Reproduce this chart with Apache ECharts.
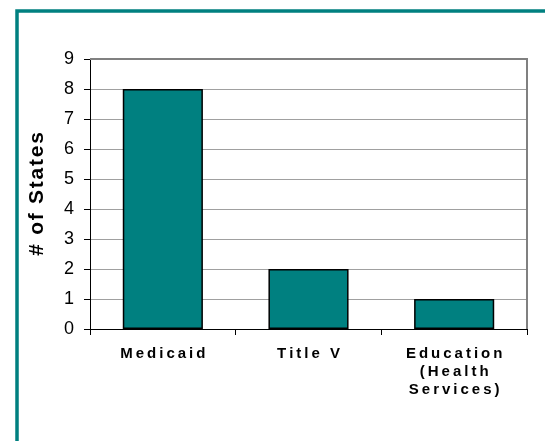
<!DOCTYPE html>
<html>
<head>
<meta charset="utf-8">
<script src="https://cdn.jsdelivr.net/npm/echarts@6/dist/echarts.min.js"></script>
<style>
  html, body { margin: 0; padding: 0; background: #fff; }
  #chart { width: 545px; height: 441px; }
</style>
</head>
<body>
<div id="chart"></div>
<script>
// Number of states using each funding source
const categories = ['Medicaid', 'Title V', 'Education\n(Health\nServices)'];
const stateCounts = [8, 2, 1];
const yTicks = [0, 1, 2, 3, 4, 5, 6, 7, 8, 9];
const yTitle = '# of States';

// open up the tracking of a label by putting a narrow space between letters
function tracked(label, gap) {
  return label.split('\n').map(function (line) {
    return Array.from(line).join(gap);
  }).join('\n');
}

const chart = echarts.init(document.getElementById('chart'), null, { renderer: 'canvas' });

const gridBox = { left: 90, top: 59, right: 18, bottom: 112 };

chart.setOption({
  animation: false,
  backgroundColor: '#ffffff',
  graphic: [
    // teal frame around the chart (runs off the right and bottom edges)
    {
      type: 'rect',
      shape: { x: 17, y: 11, width: 560, height: 460 },
      style: { fill: 'none', stroke: '#008080', lineWidth: 3.5 },
      silent: true
    },
    // plot-area outline (top and right sides)
    {
      type: 'polyline',
      shape: { points: [[90, 59], [527, 59], [527, 329]] },
      style: { stroke: '#808080', lineWidth: 2, fill: 'none' },
      z: 5,
      silent: true
    }
  ],
  grid: gridBox,
  xAxis: {
    type: 'category',
    data: categories,
    axisLine: { show: true, lineStyle: { color: '#000', width: 1 } },
    axisTick: { show: true, alignWithLabel: false, length: 6, lineStyle: { color: '#000' } },
    axisLabel: {
      color: '#000',
      fontFamily: 'Arial, Liberation Sans, sans-serif',
      fontWeight: 'bold',
      fontSize: 15,
      lineHeight: 18,
      margin: 16,
      interval: 0,
      formatter: function (v) { return tracked(v, '\u2009'); }
    },
    splitLine: { show: false }
  },
  yAxis: {
    type: 'value',
    min: yTicks[0],
    max: yTicks[yTicks.length - 1],
    interval: 1,
    name: tracked(yTitle, '\u200A'),
    nameLocation: 'middle',
    nameGap: 42,
    nameTextStyle: {
      color: '#000',
      fontFamily: 'Arial, Liberation Sans, sans-serif',
      fontWeight: 'bold',
      fontSize: 21
    },
    axisLine: { show: true, lineStyle: { color: '#000', width: 1 } },
    axisTick: { show: true, length: 6, lineStyle: { color: '#000' } },
    axisLabel: {
      color: '#000',
      fontFamily: 'Arial, Liberation Sans, sans-serif',
      fontSize: 18,
      margin: 16
    },
    splitLine: { show: true, lineStyle: { color: '#a0a0a0', width: 1 } }
  },
  series: [{
    type: 'bar',
    data: stateCounts,
    barWidth: '55%',
    itemStyle: { color: '#008080', borderColor: '#000', borderWidth: 1.5 }
  }]
});
</script>
</body>
</html>
